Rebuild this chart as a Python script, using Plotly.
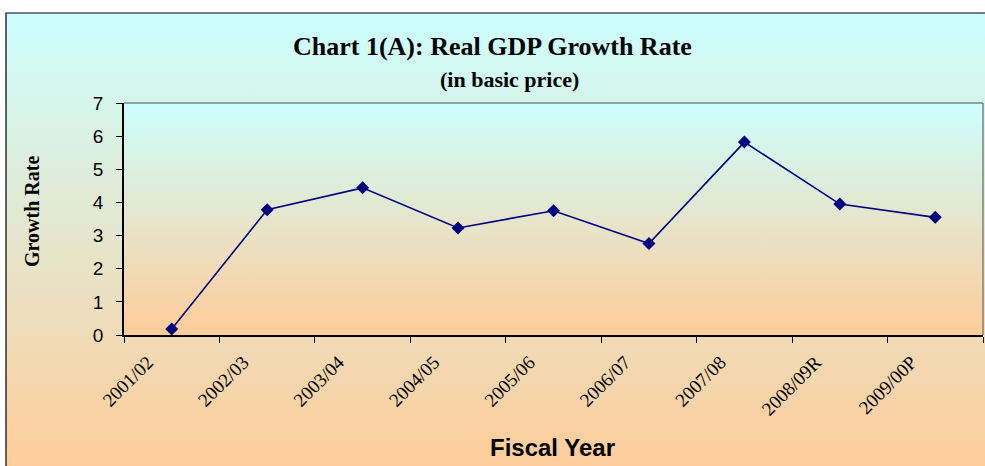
import base64
import plotly.graph_objects as go

# data
anos = ['2001/02', '2002/03', '2003/04', '2004/05', '2005/06',
        '2006/07', '2007/08', '2008/09R', '2009/00P']
crescimento = [0.18, 3.78, 4.44, 3.23, 3.75, 2.76, 5.82, 3.95, 3.55]
y_ticks = [0, 1, 2, 3, 4, 5, 6, 7]

W, H = 985, 466
L, R, T, B = 124, 983, 103, 335   # plot area in pixels


def px(x):
    return (x - L) / (R - L)


def py(y):
    return (B - y) / (B - T)


def degrade(c1, c2):
    svg = ('<svg xmlns="http://www.w3.org/2000/svg" width="10" height="100" '
           'viewBox="0 0 10 100" preserveAspectRatio="none">'
           '<defs><linearGradient id="g" x1="0" y1="0" x2="0" y2="1">'
           f'<stop offset="0" stop-color="{c1}"/><stop offset="1" stop-color="{c2}"/>'
           '</linearGradient></defs><rect width="10" height="100" fill="url(#g)"/></svg>')
    return 'data:image/svg+xml;base64,' + base64.b64encode(svg.encode()).decode()


fig = go.Figure()
fig.add_trace(go.Scatter(
    x=anos, y=crescimento, mode='lines+markers',
    line=dict(color='#000080', width=1.6),
    marker=dict(symbol='diamond', size=10, color='#000080'),
    showlegend=False
))

serif = 'Liberation Serif, Times New Roman, serif'
sans = 'Liberation Sans, Arial, sans-serif'


def texto(t, x, y, font, angle=0):
    return dict(text=t, xref='paper', yref='paper', x=px(x), y=py(y),
                xanchor='center', yanchor='middle', textangle=angle,
                showarrow=False, font=font)


fig.update_layout(
    width=W, height=H,
    margin=dict(l=L, r=W - R, t=T, b=H - B),
    paper_bgcolor='white',
    plot_bgcolor='rgba(0,0,0,0)',
    images=[
        # fundo do gráfico inteiro
        dict(source=degrade('#ccffff', '#ffcc99'), xref='paper', yref='paper',
             x=px(6), y=py(13), sizex=px(W + 5) - px(6), sizey=py(13) - py(H + 5),
             xanchor='left', yanchor='top', sizing='stretch', layer='below'),
        # fundo da área de plotagem
        dict(source=degrade('#ccffff', '#ffcc99'), xref='paper', yref='paper',
             x=0, y=1, sizex=1, sizey=1,
             xanchor='left', yanchor='top', sizing='stretch', layer='below'),
    ],
    shapes=[
        dict(type='rect', xref='paper', yref='paper', x0=px(6), x1=px(W + 5),
             y0=py(H + 5), y1=py(13), line=dict(color='black', width=1.2)),
        dict(type='line', xref='paper', yref='paper', x0=0, x1=1, y0=1, y1=1,
             line=dict(color='#808080', width=1.5)),
        dict(type='line', xref='paper', yref='paper', x0=1, x1=1, y0=0, y1=1,
             line=dict(color='#808080', width=1.5)),
    ],
    annotations=[
        texto('<b>Chart 1(A): Real GDP Growth Rate</b>', 492, 46,
              dict(family=serif, size=26, color='black')),
        texto('<b>(in basic price)</b>', 509, 79,
              dict(family=serif, size=22, color='black')),
        texto('<b>Growth Rate</b>', 32, 212,
              dict(family=serif, size=20, color='black'), angle=-90),
        texto('<b>Fiscal Year</b>', 552, 447,
              dict(family=sans, size=24, color='black')),
    ],
)

fig.update_xaxes(
    range=[-0.5, len(anos) - 0.5], showgrid=False, zeroline=False,
    showline=True, linecolor='black', linewidth=1.5,
    ticks='outside', tickson='boundaries', ticklen=6, tickcolor='black',
    tickangle=-45, tickfont=dict(family=serif, size=19, color='black'),
    ticklabelshift=-24, ticklabelstandoff=7
)
fig.update_yaxes(
    range=[0, 7], tickvals=y_ticks, showgrid=False, zeroline=False,
    showline=True, linecolor='black', linewidth=1.5,
    ticks='outside', ticklen=6, tickcolor='black',
    tickfont=dict(family=sans, size=19, color='black'),
    ticklabelstandoff=9
)

# tira a margem padrão do <body> para a figura começar em (0, 0)
fig.write_html('out.html', config=dict(displayModeBar=False),
               post_script="document.body.style.margin='0';")
